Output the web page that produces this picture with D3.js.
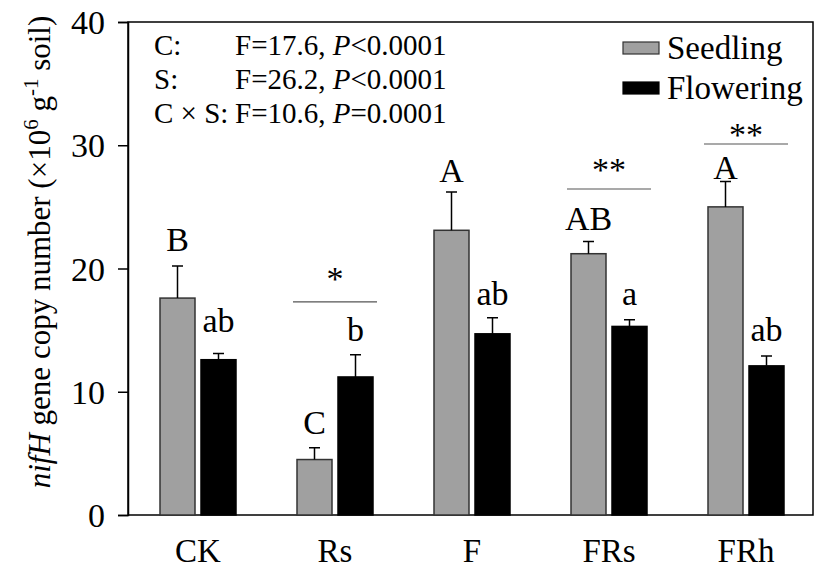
<!DOCTYPE html>
<html>
<head>
<meta charset="utf-8">
<script src="https://cdn.jsdelivr.net/npm/d3@7"></script>
<style>
  body { margin: 0; background: #fff; }
  svg { font-family: "Liberation Serif", "Times New Roman", serif; }
</style>
</head>
<body>
<div id="display"></div>
<script>
// data
var categories = ["CK", "Rs", "F", "FRs", "FRh"];
var seriesNames = ["Seedling", "Flowering"];
var seedling = [17.6, 4.5, 23.1, 21.2, 25.0];
var seedlingSE = [2.6, 0.95, 3.1, 1.0, 2.05];
var flowering = [12.6, 11.2, 14.7, 15.3, 12.1];
var floweringSE = [0.5, 1.8, 1.3, 0.55, 0.8];
var seedlingLetters = ["B", "C", "A", "AB", "A"];
var floweringLetters = ["ab", "b", "ab", "a", "ab"];
var sigMarks = ["", "*", "", "**", "**"];
var sigLevel = [null, 17.3, null, 26.45, 30.1];
var yTicks = [0, 10, 20, 30, 40];
var stats = [
  ["C:", "F=17.6, ", "P", "<0.0001"],
  ["S:", "F=26.2, ", "P", "<0.0001"],
  ["C \u00d7 S:", "F=10.6, ", "P", "=0.0001"]
];

// layout tweaks (pixels)
var seedLetterGap = [15, 14, 10, 11, 3];
var flowLetterGap = [22, 14, 13, 15, 15];
var sigTextGap = [0, 12, 0, 8, -2];

var width = 815, height = 579;
var margin = {left: 128, right: 2, top: 22, bottom: 64};
var barW = 35, gap = 6;

var svg = d3.select("#display")
  .append("svg")
  .attr("width", width)
  .attr("height", height);

var x = d3.scaleBand()
  .domain(categories)
  .range([margin.left + 1.5, width - margin.right + 1.5]);

var y = d3.scaleLinear()
  .domain([0, 40])
  .range([height - margin.bottom, margin.top]);

var cx = function(c) { return x(c) + x.bandwidth() / 2; };

// frame
svg.append("rect")
  .attr("x", margin.left)
  .attr("y", y(40))
  .attr("width", width - margin.right - margin.left)
  .attr("height", y(0) - y(40))
  .attr("fill", "none")
  .attr("stroke", "#000")
  .attr("stroke-width", 1.5);

// y axis
var yAxis = svg.append("g")
  .attr("transform", "translate(" + margin.left + ",0)")
  .call(d3.axisLeft(y).tickValues(yTicks).tickSize(10).tickPadding(13));
yAxis.select(".domain").attr("stroke-width", 1.5);
yAxis.selectAll(".tick line").attr("stroke-width", 1.5);
yAxis.selectAll("text")
  .attr("fill", "#000")
  .attr("dy", "0.34em")
  .style("font-size", "34px")
  .style("font-family", "Liberation Serif");

// x labels
var xAxis = svg.append("g")
  .attr("transform", "translate(0," + y(0) + ")")
  .call(d3.axisBottom(x).tickSize(0).tickPadding(24));
xAxis.select(".domain").remove();
xAxis.selectAll("text")
  .attr("fill", "#000")
  .style("font-size", "33px")
  .style("font-family", "Liberation Serif");

// bars
var rows = categories.map(function(c, i) {
  return {c: c, i: i};
});

function drawSeries(vals, ses, letters, gaps, dx, fill, stroke) {
  var g = svg.append("g");
  g.selectAll("rect")
    .data(rows)
    .join("rect")
      .attr("x", d => cx(d.c) + dx)
      .attr("y", d => y(vals[d.i]))
      .attr("width", barW)
      .attr("height", d => y(0) - y(vals[d.i]))
      .attr("fill", fill)
      .attr("stroke", stroke)
      .attr("stroke-width", 1.5);

  g.selectAll("path.err")
    .data(rows)
    .join("path")
      .attr("class", "err")
      .attr("fill", "none")
      .attr("stroke", "#000")
      .attr("stroke-width", 1.5)
      .attr("d", function(d) {
        var m = cx(d.c) + dx + barW / 2;
        var top = y(vals[d.i] + ses[d.i]);
        return "M" + m + "," + y(vals[d.i]) + "V" + top + "M" + (m - 5.5) + "," + top + "H" + (m + 5.5);
      });

  g.selectAll("text")
    .data(rows)
    .join("text")
      .attr("x", d => cx(d.c) + dx + barW / 2)
      .attr("y", d => y(vals[d.i] + ses[d.i]) - gaps[d.i])
      .attr("text-anchor", "middle")
      .style("font-size", "34px")
      .text(d => letters[d.i]);
}

drawSeries(seedling, seedlingSE, seedlingLetters, seedLetterGap, -barW - gap / 2, "#a0a0a0", "#333");
drawSeries(flowering, floweringSE, floweringLetters, flowLetterGap, gap / 2, "#000", "#000");

// significance lines between stages
var sig = svg.append("g");
rows.filter(d => sigLevel[d.i] !== null).forEach(function(d) {
  var yy = y(sigLevel[d.i]);
  sig.append("line")
    .attr("x1", cx(d.c) - 42)
    .attr("x2", cx(d.c) + 42)
    .attr("y1", yy)
    .attr("y2", yy)
    .attr("stroke", "#555")
    .attr("stroke-width", 1.2);
  sig.append("text")
    .attr("x", cx(d.c))
    .attr("y", yy - sigTextGap[d.i])
    .attr("text-anchor", "middle")
    .style("font-size", "34px")
    .text(sigMarks[d.i]);
});

// ANOVA text
var st = svg.append("g").style("font-size", "29px");
stats.forEach(function(r, i) {
  var yy = 55 + i * 34;
  st.append("text").attr("x", 154).attr("y", yy).text(r[0]);
  var t = st.append("text").attr("x", 235).attr("y", yy);
  t.append("tspan").text(r[1]);
  t.append("tspan").style("font-style", "italic").text(r[2]);
  t.append("tspan").text(r[3]);
});

// legend
var legend = svg.append("g");
var legendFill = ["#a0a0a0", "#000"];
seriesNames.forEach(function(s, i) {
  legend.append("rect")
    .attr("x", 623)
    .attr("y", 42 + i * 40)
    .attr("width", 36)
    .attr("height", 12)
    .attr("fill", legendFill[i])
    .attr("stroke", i === 0 ? "#333" : "#000")
    .attr("stroke-width", 1.2);
  legend.append("text")
    .attr("x", 667)
    .attr("y", 59 + i * 40)
    .style("font-size", "33px")
    .text(s);
});

// y title
var title = svg.append("text")
  .attr("transform", "translate(50,252) rotate(-90)")
  .attr("text-anchor", "middle")
  .style("font-size", "31px");
title.append("tspan").style("font-style", "italic").text("nifH");
title.append("tspan").text(" gene copy number (\u00d710");
title.append("tspan").attr("dy", -12).style("font-size", "21px").text("6");
title.append("tspan").attr("dy", 12).text(" g");
title.append("tspan").attr("dy", -12).style("font-size", "21px").text("-1");
title.append("tspan").attr("dy", 12).text(" soil)");
</script>
</body>
</html>
